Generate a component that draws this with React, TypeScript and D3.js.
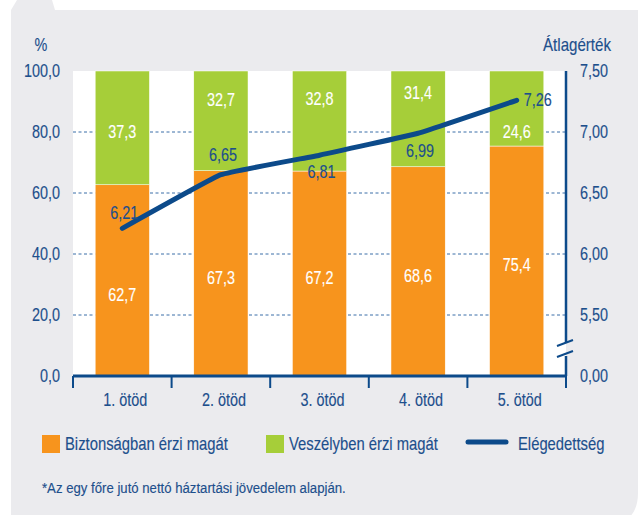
import React from 'react';
import * as d3 from 'd3';

const categories = ['1. ötöd', '2. ötöd', '3. ötöd', '4. ötöd', '5. ötöd'];
const safeValues = [62.7, 67.3, 67.2, 68.6, 75.4];
const dangerValues = [37.3, 32.7, 32.8, 31.4, 24.6];
const satisfaction = [6.21, 6.65, 6.81, 6.99, 7.26];
const leftTicks = [0, 20, 40, 60, 80, 100];
const rightTicks = [5.0, 5.5, 6.0, 6.5, 7.0, 7.5];
const rightTickLabels = ['0,00', '5,50', '6,00', '6,50', '7,00', '7,50'];
const legendLabels = ['Biztonságban érzi magát', 'Veszélyben érzi magát', 'Elégedettség'];
const footnote = '*Az egy főre jutó nettó háztartási jövedelem alapján.';

// label anchors (in data units of the percent axis) and line label placement
const safeLabelAt = [26.6, 32.1, 32.1, 32.8, 36.4];
const dangerLabelAt = [80.0, 90.5, 90.8, 92.8, 80.0];
const lineLabelSide = ['above', 'above', 'below', 'below', 'right'];

const W = 641;
const H = 515;
const L = 73, R = 566, T = 71, B = 376;
const ORANGE = '#F7941D';
const GREEN = '#A6CE39';
const BLUE = '#0C4A8A';
const TEXT = '#1D4F8C';
const BG = '#EBEBEE';
const FONT = "'Liberation Sans', Arial, sans-serif";

const fmt1 = (v: number) => d3.format('.1f')(v).replace('.', ',');
const fmt2 = (v: number) => d3.format('.2f')(v).replace('.', ',');

function Txt(props: { x: number; y: number; anchor?: string; size?: number; sx?: number; fill?: string; children: React.ReactNode }) {
  const { x, y, anchor = 'start', size = 18, sx = 0.8, fill = TEXT, children } = props;
  return (
    <text
      transform={`translate(${x},${y}) scale(${sx},1)`}
      textAnchor={anchor as any}
      dy="0.35em"
      fontSize={size}
      fill={fill}
      stroke={fill}
      strokeWidth={0.15}
    >
      {children}
    </text>
  );
}

export default function App() {
  const x = d3.scaleBand<string>().domain(categories).range([L, R]).paddingInner(0.45).paddingOuter(0.225);
  const yL = d3.scaleLinear().domain([0, 100]).range([B, T]);
  const yR = d3.scaleLinear().domain([5, 7.5]).range([B, T]);
  const bw = x.bandwidth();
  const cx = (c: string) => (x(c) as number) + bw / 2;
  const step = x.step();
  const boundaries = d3.range(categories.length + 1).map((i) => L + i * step);

  const pts: [number, number][] = categories.map((c, i) => [cx(c), yR(satisfaction[i])]);
  const linePath = d3.line().curve(d3.curveCardinal.tension(0.75))(pts) || '';

  const breakTop = 343;
  const breakBot = 356;

  return (
    <svg width={W} height={H} style={{ position: 'absolute', left: 0, top: 0 }} fontFamily={FONT}>
      <rect x={0} y={0} width={W} height={H} fill="#fff" />
      <path d={`M17,0 L52,0 L55,10 L638,10 L638,493 Q638,515 622,522 L11,522 L11,10 Z`} fill={BG} />
      <rect x={L} y={T} width={R - L} height={B - T} fill="#fff" />
      {leftTicks.filter((t) => t > 0 && t < 100).map((t) => (
        <line key={t} x1={L} x2={R} y1={yL(t)} y2={yL(t)} stroke="#3A6EA8" strokeWidth={1} strokeDasharray="3,2.5" />
      ))}
      {categories.map((c, i) => (
        <g key={c}>
          <rect x={x(c)} y={yL(safeValues[i])} width={bw} height={yL(0) - yL(safeValues[i])} fill={ORANGE} stroke="#fff" strokeWidth={0.5} />
          <rect x={x(c)} y={yL(safeValues[i] + dangerValues[i])} width={bw} height={yL(safeValues[i]) - yL(safeValues[i] + dangerValues[i])} fill={GREEN} stroke="#fff" strokeWidth={0.5} />
          <Txt x={cx(c)} y={yL(safeLabelAt[i])} anchor="middle" fill="#fff">{fmt1(safeValues[i])}</Txt>
          <Txt x={cx(c)} y={yL(dangerLabelAt[i])} anchor="middle" fill="#fff">{fmt1(dangerValues[i])}</Txt>
        </g>
      ))}
      <path d={linePath} fill="none" stroke={BLUE} strokeWidth={5} strokeLinecap="round" strokeLinejoin="round" />
      {pts.map(([px, py], i) => {
        const side = lineLabelSide[i];
        const lx = side === 'right' ? px + 7 : px + 2;
        const ly = side === 'above' ? py - (i === 0 ? 16 : 20) : side === 'below' ? py + 17 : py - 1;
        return (
          <Txt key={i} x={lx} y={ly} anchor={side === 'right' ? 'start' : 'middle'}>
            {fmt2(satisfaction[i])}
          </Txt>
        );
      })}
      {/* x axis */}
      <line x1={L} x2={R + 1} y1={B} y2={B} stroke={BLUE} strokeWidth={3} />
      {boundaries.map((bx, i) => (
        <line key={i} x1={bx} x2={bx} y1={B} y2={B + 12} stroke={BLUE} strokeWidth={2} />
      ))}
      {categories.map((c) => (
        <Txt key={c} x={cx(c) + 3} y={400} anchor="middle">{c}</Txt>
      ))}
      {/* left labels */}
      {leftTicks.map((t) => (
        <Txt key={t} x={60} y={yL(t)} anchor="end">{fmt1(t)}</Txt>
      ))}
      <Txt x={41} y={45} anchor="middle">%</Txt>
      {/* right axis */}
      <line x1={R} x2={R} y1={T} y2={breakTop} stroke={BLUE} strokeWidth={2.5} />
      <line x1={R} x2={R} y1={breakBot} y2={B} stroke={BLUE} strokeWidth={2.5} />
      <line x1={R - 9} x2={R + 7} y1={breakTop + 3} y2={breakTop - 3} stroke={BLUE} strokeWidth={2} />
      <line x1={R - 9} x2={R + 7} y1={breakBot + 1} y2={breakBot - 5} stroke={BLUE} strokeWidth={2} />
      {rightTicks.map((t, i) => (
        <Txt key={t} x={580} y={yR(t)}>{rightTickLabels[i]}</Txt>
      ))}
      <Txt x={543} y={45} sx={0.84}>Átlagérték</Txt>
      {/* legend */}
      <rect x={42} y={435} width={18} height={18} fill={ORANGE} />
      <Txt x={65} y={444} size={18.5}>{legendLabels[0]}</Txt>
      <rect x={266} y={435} width={18} height={18} fill={GREEN} />
      <Txt x={289} y={444} size={18.5}>{legendLabels[1]}</Txt>
      <line x1={468} x2={506} y1={442} y2={442} stroke={BLUE} strokeWidth={5} strokeLinecap="round" />
      <Txt x={518} y={444} size={18.5}>{legendLabels[2]}</Txt>
      <Txt x={42} y={488} size={15.5} sx={0.85}>{footnote}</Txt>
    </svg>
  );
}
